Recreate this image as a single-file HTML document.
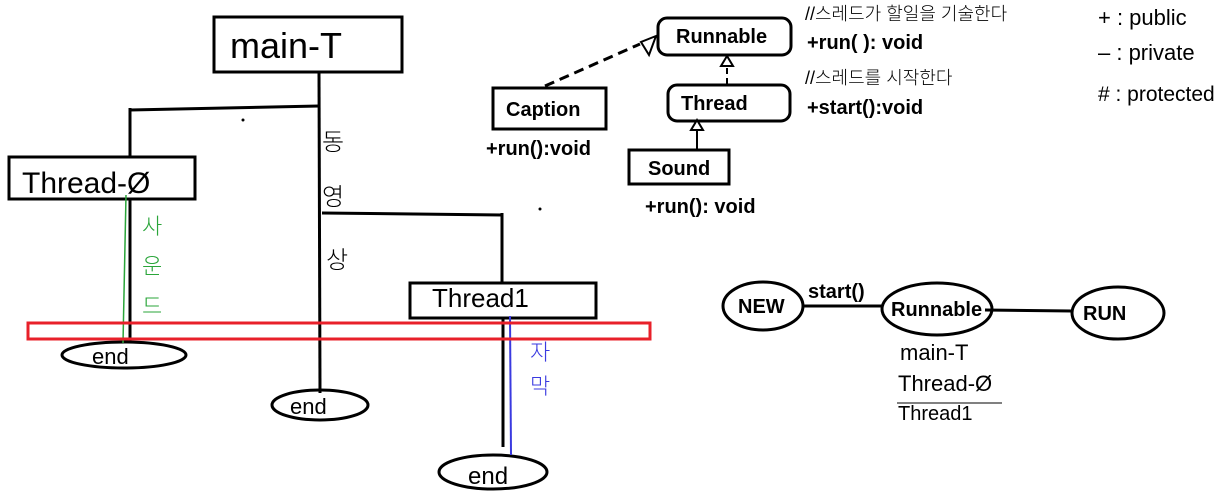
<!DOCTYPE html>
<html><head><meta charset="utf-8"><style>
html,body{margin:0;padding:0;background:#fff;width:1226px;height:496px;overflow:hidden}
svg{display:block}
.h{font-family:"Liberation Sans","Noto Sans CJK KR",sans-serif;font-weight:300}
.b{font-family:"Liberation Sans","Noto Sans CJK KR",sans-serif;font-weight:bold;font-size:20px}
</style></head><body>
<svg width="1226" height="496" viewBox="0 0 1226 496" xmlns="http://www.w3.org/2000/svg">
<g stroke="#000" stroke-width="3" fill="none">
<rect x="214" y="17" width="188" height="55"/>
<line x1="319" y1="72" x2="320" y2="393"/>
<line x1="130" y1="110" x2="319" y2="106"/>
<line x1="130" y1="108" x2="130" y2="157"/>
<rect x="9" y="157" width="186" height="42"/>
<line x1="130" y1="199" x2="130" y2="342"/>
<line x1="322" y1="213" x2="502" y2="215"/>
<line x1="502" y1="213" x2="502" y2="283"/>
<rect x="410" y="283" width="186" height="35"/>
<line x1="503" y1="318" x2="503" y2="447"/>
<ellipse cx="124" cy="355" rx="62" ry="13"/>
<ellipse cx="320" cy="405" rx="48" ry="15"/>
<ellipse cx="493" cy="472" rx="54" ry="17"/>
</g>
<circle cx="243" cy="120" r="1.5"/><circle cx="540" cy="209" r="1.5"/>
<line x1="126" y1="195" x2="123" y2="343" stroke="#2aa53a" stroke-width="1.5"/>
<line x1="510" y1="316" x2="511" y2="455" stroke="#3a3ae0" stroke-width="2"/>
<rect x="28" y="323" width="622" height="16" fill="none" stroke="#e8202a" stroke-width="3"/>
<text x="230" y="58" class="h" font-size="36">main-T</text>
<text x="22" y="193" class="h" font-size="30">Thread-Ø</text>
<text x="432" y="307" class="h" font-size="26">Thread1</text>
<text x="92" y="364" class="h" font-size="22">end</text>
<text x="290" y="414" class="h" font-size="22">end</text>
<text x="468" y="484" class="h" font-size="24">end</text>
<g class="h" font-size="24">
<text x="322" y="150">동</text><text x="322" y="205">영</text><text x="326" y="268">상</text>
</g>
<g class="h" font-size="22" fill="#2aa53a">
<text x="142" y="234">사</text><text x="142" y="274">운</text><text x="142" y="314">드</text>
</g>
<g class="h" font-size="22" fill="#3a3ae0">
<text x="530" y="360">자</text><text x="530" y="394">막</text>
</g>
<g stroke="#000" stroke-width="3" fill="none">
<rect x="658" y="18" width="133" height="37" rx="9"/>
<rect x="668" y="85" width="122" height="36" rx="9"/>
<rect x="493" y="88" width="113" height="41"/>
<rect x="629" y="150" width="100" height="34"/>
<line x1="545" y1="86" x2="640" y2="44" stroke-dasharray="10,6"/>
<line x1="727" y1="84" x2="727" y2="64" stroke-width="2" stroke-dasharray="6,4"/>
<line x1="697" y1="149" x2="697" y2="127" stroke-width="2"/>
</g>
<g stroke="#000" stroke-width="2" fill="#fff">
<polygon points="656,36 641,42 649,55"/>
<polygon points="727,56 721,66 733,66"/>
<polygon points="697,120 691,130 703,130"/>
</g>
<text x="676" y="43" class="b">Runnable</text>
<text x="681" y="110" class="b">Thread</text>
<text x="506" y="116" class="b">Caption</text>
<text x="648" y="175" class="b">Sound</text>
<text x="486" y="155" class="b" font-size="19">+run():void</text>
<text x="645" y="213" class="b" font-size="19">+run(): void</text>
<text x="807" y="49" class="b" font-size="19">+run( ): void</text>
<text x="807" y="114" class="b" font-size="19">+start():void</text>
<text x="805" y="20" class="h" font-size="18">//스레드가 할일을 기술한다</text>
<text x="805" y="84" class="h" font-size="18">//스레드를 시작한다</text>
<text x="1098" y="25" class="h" font-size="22">+ : public</text>
<text x="1098" y="60" class="h" font-size="22">– : private</text>
<text x="1098" y="101" class="h" font-size="21"># : protected</text>
<g stroke="#000" stroke-width="3" fill="none">
<ellipse cx="763" cy="306" rx="40" ry="24"/>
<ellipse cx="937" cy="309" rx="55" ry="26"/>
<ellipse cx="1118" cy="313" rx="46" ry="26"/>
<line x1="804" y1="306" x2="882" y2="306"/>
<line x1="985" y1="310" x2="1072" y2="311"/>
</g>
<text x="738" y="313" class="b">NEW</text>
<text x="808" y="298" class="b" font-size="17">start()</text>
<text x="891" y="316" class="b">Runnable</text>
<text x="1083" y="320" class="b">RUN</text>
<text x="900" y="360" class="h" font-size="22">main-T</text>
<text x="898" y="391" class="h" font-size="22">Thread-Ø</text>
<line x1="897" y1="403" x2="1002" y2="403" stroke="#000" stroke-width="1"/>
<text x="898" y="420" class="h" font-size="20">Thread1</text>
</svg>
</body></html>
